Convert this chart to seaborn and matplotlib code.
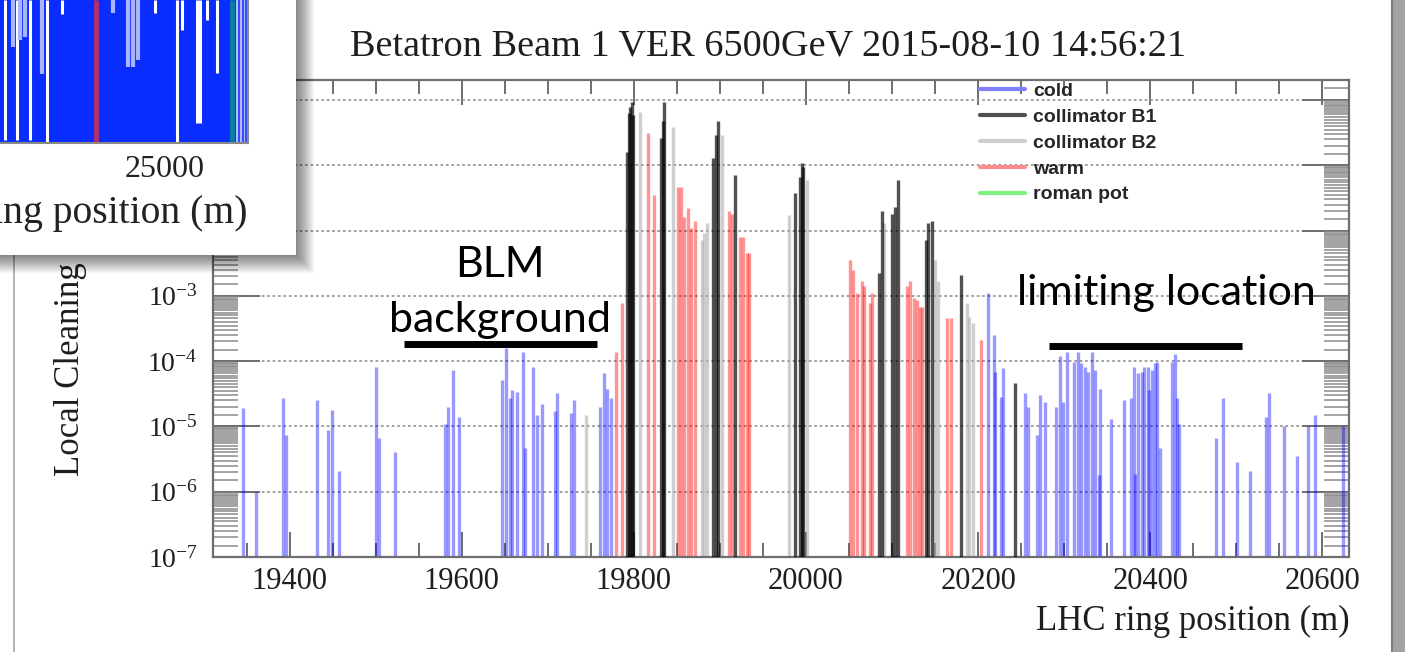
import numpy as np
import matplotlib
matplotlib.use("Agg")
import matplotlib.pyplot as plt
import seaborn as sns
from matplotlib.lines import Line2D
from matplotlib.patches import Rectangle
from matplotlib.transforms import Affine2D
from matplotlib.ticker import (LogLocator, LogFormatterMathtext, MultipleLocator, NullFormatter,
                               FixedLocator, FuncFormatter)

sns.set_theme(style="ticks")
plt.rcParams["font.family"] = ["Liberation Serif", "DejaVu Serif"]
plt.rcParams["mathtext.fontset"] = "custom"
plt.rcParams["mathtext.rm"] = "Liberation Serif"
plt.rcParams["mathtext.it"] = "Liberation Serif:italic"
plt.rcParams["mathtext.bf"] = "Liberation Serif:bold"
plt.rcParams["axes.unicode_minus"] = False

# ---------------- text ----------------
TITLE = "Betatron Beam 1 VER 6500GeV 2015-08-10 14:56:21"
XLABEL = "LHC ring position (m)"
YLABEL = "Local Cleaning Inefficiency"
legend_labels = ["cold", "collimator B1", "collimator B2", "warm", "roman pot"]
x_ticks = [19400, 19600, 19800, 20000, 20200, 20400, 20600]
note_left = ["BLM", "background"]
note_right = "limiting location"

# ---------------- data (ring position m, local cleaning inefficiency) ----------------
cold_pos = [19346, 19361, 19392, 19396, 19432, 19445, 19449, 19457, 19500, 19504,
            19522, 19581, 19584, 19590, 19597, 19647, 19652, 19656, 19659, 19664,
            19671, 19674, 19683, 19687, 19693, 19708, 19711, 19727, 19731, 19761,
            19765, 19769, 19774,
            20212, 20219, 20220, 20227, 20229, 20255, 20258, 20268, 20272, 20278,
            20291, 20295, 20299, 20303, 20311, 20316, 20320, 20324, 20328, 20332,
            20336, 20341, 20342, 20355, 20369, 20378, 20381, 20382, 20386, 20390,
            20393, 20398, 20399, 20402, 20406, 20408, 20411, 20425, 20429, 20431,
            20433, 20477, 20485, 20501, 20516, 20535, 20538, 20555, 20570, 20583,
            20591, 20624]
cold_val = [1.9e-5, 1.0e-6, 2.7e-5, 7.4e-6, 2.5e-5, 8.7e-6, 1.8e-5, 2.1e-6, 8.1e-5, 6.6e-6,
            4.0e-6, 1.1e-5, 2.0e-5, 7.2e-5, 1.4e-5, 5.1e-5, 1.6e-4, 2.7e-5, 3.6e-5, 3.4e-5,
            1.4e-4, 4.6e-6, 8.1e-5, 1.5e-5, 2.2e-5, 1.7e-5, 3.2e-5, 1.6e-5, 2.5e-5, 2.0e-5,
            6.5e-5, 3.8e-5, 2.7e-5,
            1.1e-3, 2.5e-4, 6.9e-5, 2.8e-5, 7.8e-5, 3.2e-5, 2.0e-5, 7.4e-6, 3.0e-5, 2.4e-5,
            2.0e-5, 1.2e-4, 2.4e-5, 1.4e-4, 9.8e-5, 1.4e-4, 9.3e-5, 8.1e-5, 6.9e-5, 1.4e-4,
            7.2e-5, 1.8e-6, 3.8e-5, 1.3e-5, 2.5e-5, 2.7e-5, 8.1e-5, 1.9e-6, 6.5e-5, 6.9e-5,
            8.1e-5, 8.1e-5, 3.6e-5, 7.2e-5, 9.3e-5, 9.8e-5, 4.6e-6, 9.8e-5, 1.3e-4, 2.7e-5,
            1.1e-5, 6.6e-6, 2.7e-5, 2.9e-6, 2.1e-6, 1.4e-5, 3.2e-5, 1.0e-5, 3.5e-6, 1.0e-5,
            1.5e-5, 1.0e-5]

coll_b1_pos = [19792, 19794, 19796, 19798, 19799, 19832, 19834, 19835, 19892, 19896,
               19898, 19918, 19987, 19993, 19995, 19997, 20085, 20088, 20100, 20103,
               20107, 20140, 20142, 20146, 20180, 20243]
coll_b1_val = [0.16, 0.62, 0.79, 0.93, 0.59, 0.26, 0.47, 0.93, 0.13, 0.29,
               0.47, 0.071, 0.037, 0.066, 0.11, 0.095, 2.2e-3, 0.020, 0.018, 0.023,
               0.059, 7.1e-3, 0.013, 0.014, 2.1e-3, 4.6e-5]

coll_b2_pos = [19744, 19807, 19845, 19879, 19882, 19885, 19902, 19980, 20001, 20091,
               20150, 20154, 20187, 20190, 20194]
coll_b2_val = [1.5e-5, 0.66, 0.39, 7.1e-3, 9.1e-3, 0.013, 0.29, 0.017, 0.059, 0.013,
               3.5e-3, 1.7e-3, 7.8e-4, 4.8e-4, 3.8e-4]

warm_pos = [19779, 19786, 19817, 19823, 19851, 19855, 19858, 19863, 19867, 19871,
            19910, 19914, 19923, 19927, 19931, 19934, 20051, 20055, 20059, 20065,
            20068, 20074, 20077, 20117, 20121, 20125, 20129, 20133, 20135, 20164,
            20169, 20203]
warm_val = [1.4e-4, 7.8e-4, 0.31, 0.035, 0.047, 0.047, 0.016, 0.022, 0.011, 0.014,
            0.020, 0.018, 8.1e-3, 8.1e-3, 4.5e-3, 4.5e-3, 3.5e-3, 2.5e-3, 1.1e-3, 1.7e-3,
            1.4e-3, 7.8e-4, 1.1e-3, 1.4e-3, 1.7e-3, 9.1e-4, 8.7e-4, 6.8e-4, 6.8e-4, 4.5e-4,
            4.5e-4, 2.1e-4]

roman_pos = []
roman_val = []

# inset (fragment of the full-ring plot): white gaps hanging from the top
inset_gap_pos = [21800, 22040, 22300, 22640, 22940, 24800, 25240, 25340, 25640, 25700,
                 25840, 26040]
inset_gap_bottom = [0.02, 0.02, 0.02, 0.01, 0.90, 0.91, 0.01, 0.79, 0.14, 0.14,
                    0.86, 0.49]
inset_pale_pos = [21960, 22100, 22200, 22540, 23960, 24260, 24360, 24460]
inset_pale_bottom = [0.67, 0.72, 0.74, 0.48, 0.91, 0.53, 0.53, 0.58]
inset_special_pos = [23620, 26340]
inset_tick = [25000]

# ---------------- figure ----------------
W, H = 1405, 652
fig = plt.figure(figsize=(W / 100, H / 100), dpi=100, facecolor="white")
P = Affine2D().scale(1.0 / W, -1.0 / H).translate(0, 1) + fig.transFigure  # pixel coords (y down)

# slide panel borders
fig.patches.append(Rectangle((1392, 0), 13, H, transform=P, facecolor="#a3a3a3",
                             edgecolor="none", zorder=0.5))
fig.lines.append(Line2D([1392, 1392], [0, H], transform=P, color="#7d7d7d", lw=1.5, zorder=0.6))
fig.lines.append(Line2D([14, 14], [0, H], transform=P, color="#a8a8a8", lw=1.2, zorder=0.6))

ax = fig.add_axes([213 / W, 1 - 557 / H, (1349 - 213) / W, (557 - 80) / H])
ax.set_facecolor("white")
ax.set_yscale("log")
ax.set_xlim(19311, 20631)
ax.set_ylim(1e-7, 2.02)

lw_bar = 2.4
ax.vlines(cold_pos, 1e-7, cold_val, colors="#0000ff", alpha=0.4, lw=lw_bar, zorder=2)
ax.vlines(coll_b2_pos, 1e-7, coll_b2_val, colors="#b0b0b0", alpha=0.6, lw=lw_bar, zorder=2)
ax.vlines(warm_pos, 1e-7, warm_val, colors="#ff0000", alpha=0.42, lw=lw_bar, zorder=2)
ax.vlines(coll_b1_pos, 1e-7, coll_b1_val, colors="#000000", alpha=0.68, lw=lw_bar, zorder=3)
if roman_pos:
    ax.vlines(roman_pos, 1e-7, roman_val, colors="#00ff00", alpha=0.45, lw=lw_bar, zorder=2)

# axes cosmetics
for s in ax.spines.values():
    s.set_color("#6e6e6e")
    s.set_linewidth(1.6)
ax.xaxis.set_major_locator(FixedLocator(x_ticks))
ax.xaxis.set_minor_locator(MultipleLocator(50))
ax.yaxis.set_major_locator(LogLocator(base=10, numticks=20))
ax.yaxis.set_minor_locator(LogLocator(base=10, subs=np.arange(1.5, 10, 0.5), numticks=40))
_fmt = LogFormatterMathtext()
# labels above 1e-3 lie underneath the overlapping inset picture, so they are not shown
ax.yaxis.set_major_formatter(FuncFormatter(lambda v, p: _fmt(v, p) if v <= 1.5e-3 else ""))
ax.yaxis.set_minor_formatter(NullFormatter())
ax.tick_params(axis="x", which="major", direction="in", top=True, bottom=True,
               length=18, width=1.4, color="#6e6e6e", labelsize=22, pad=7, labelcolor="#1e1e1e")
ax.tick_params(axis="x", which="minor", direction="in", top=True, bottom=True,
               length=10, width=1.4, color="#6e6e6e")
ax.tick_params(axis="y", which="major", direction="in", left=True, right=True,
               length=34, width=1.4, color="#6e6e6e", labelsize=20, pad=11, labelcolor="#1e1e1e")
ax.tick_params(axis="y", which="minor", direction="in", left=True, right=True,
               length=18, width=1.1, color="#8a8a8a")
ax.grid(False)
ax.yaxis.grid(True, which="major", ls=(0, (1.5, 1.5)), color="#9a9a9a", lw=1.3)

# legend
leg_colors = ["#8080ff", "#505050", "#cfcfcf", "#ff8c8c", "#80f080"]
handles = [Line2D([], [], color=c, lw=3) for c in leg_colors]
ax.legend(handles, legend_labels, loc="upper left", bbox_to_anchor=(980 / W, 1 - 82 / H),
          bbox_transform=fig.transFigure, frameon=False, borderpad=0, borderaxespad=0,
          handlelength=2.3, handletextpad=0.45, labelspacing=0.43,
          prop={"family": "Liberation Sans", "weight": "bold", "size": 14})

# titles
fig.text(768, 55, TITLE, transform=P, ha="center", va="baseline", fontsize=27.5, color="#1e1e1e")
fig.text(1350, 630, XLABEL, transform=P, ha="right", va="baseline", fontsize=25, color="#1e1e1e")
fig.text(70, 476, YLABEL, transform=P, rotation=90, ha="center", va="bottom", fontsize=25,
         color="#1e1e1e")

# slide annotations
ann = dict(transform=P, family="Lato", fontsize=31, color="black", va="baseline", zorder=6)
fig.text(500, 277, note_left[0], ha="center", **ann)
fig.text(500, 332, note_left[1], ha="center", **ann)
fig.text(1166, 305, note_right, ha="center", **ann)
fig.lines.append(Line2D([404, 597], [343.5, 343.5], transform=P, color="black", lw=5, zorder=6,
                        solid_capstyle="butt"))
fig.lines.append(Line2D([1049, 1242], [346, 346], transform=P, color="black", lw=5, zorder=6,
                        solid_capstyle="butt"))

# ---------------- inset (overlapping picture) ----------------
for d in range(18, 0, -1):
    fig.patches.append(Rectangle((0, 0), 296 + d, 255 + d, transform=P, facecolor="black",
                                 alpha=0.03, edgecolor="none", zorder=10))
fig.patches.append(Rectangle((0, 0), 296, 255, transform=P, facecolor="white",
                             edgecolor="none", zorder=11))
axi = fig.add_axes([0, 1 - 143 / H, 248 / W, 143 / H], zorder=12)
axi.set_facecolor("#0a2dff")
axi.set_xlim(21700, 26659)
axi.set_yscale("log")
axi.set_ylim(1.5e-6, 6.9e-5)
tr = axi.get_xaxis_transform()
axi.vlines(inset_gap_pos, inset_gap_bottom, 1, transform=tr, colors="white", lw=2.2)
axi.vlines(inset_pale_pos, inset_pale_bottom, 1, transform=tr, colors="#a9b4ff", lw=3.0)
axi.vlines([inset_special_pos[0]], 0, 1, transform=tr, colors="#b2306e", lw=3.5)
axi.vlines([inset_special_pos[1]], 0, 1, transform=tr, colors="#0a7fa0", lw=3.5)
axi.axvspan(26420, 26659, color="#b8c0ff", lw=0)
axi.vlines([26480, 26560, 26620], 0, 1, transform=tr, colors="#3050ff", lw=1.5)
for s in ["top", "left"]:
    axi.spines[s].set_visible(False)
for s in ["right", "bottom"]:
    axi.spines[s].set_color("#8a8a8a")
    axi.spines[s].set_linewidth(1.5)
axi.set_xticks(inset_tick)
axi.set_xticklabels([])
axi.tick_params(axis="x", direction="in", length=0)
axi.yaxis.tick_right()
axi.tick_params(axis="y", which="major", direction="in", length=12, width=1.2, color="#333333",
                labelright=False)
axi.tick_params(axis="y", which="minor", direction="in", length=10, width=1.0, color="#444444",
                labelright=False)
axi.grid(False)
fig.text(165, 177, "25000", transform=P, ha="center", va="baseline", fontsize=23,
         color="#222222", zorder=13)
fig.text(248, 223, "LHC ring position (m)", transform=P, ha="right", va="baseline",
         fontsize=28.5, color="#222222", zorder=13)

fig.savefig("out.png", dpi=100, facecolor="white")
